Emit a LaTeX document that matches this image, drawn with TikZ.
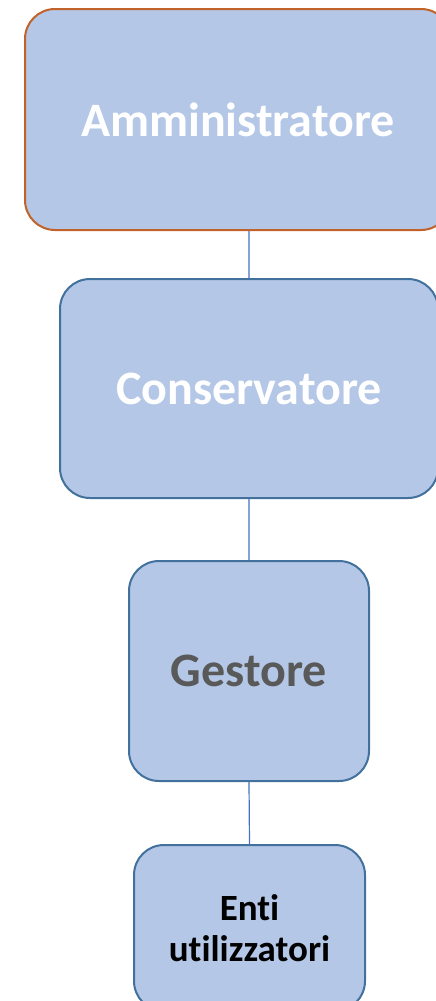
\documentclass[tikz,border=0pt]{standalone}
\usepackage{fontspec}
\setmainfont[Ligatures=NoCommon]{Carlito}
\usetikzlibrary{calc}
\definecolor{boxfill}{HTML}{B4C7E7}
\definecolor{boxline}{HTML}{41719C}
\definecolor{topline}{HTML}{C0622A}
\definecolor{linkline}{HTML}{4472C4}
\definecolor{graytext}{HTML}{595959}
\begin{document}
\begin{tikzpicture}[x=1pt,y=-1pt,
	role/.style={draw=boxline,line width=2pt,fill=boxfill,rectangle,rounded corners=30pt,
		font=\bfseries\fontsize{48}{56}\selectfont,inner sep=0pt},
	link/.style={draw=linkline,line width=1.2pt}]
				  %PAGE
				  \useasboundingbox (0,0) rectangle (436,1001);
				  %RUOLI
				  \node[role,draw=topline,text=white,minimum width=426pt,minimum height=221pt](amm) at (238,119.5) {Amministratore};
				  \node[role,text=white,minimum width=378pt,minimum height=219pt](cons) at (249,388.5) {Conservatore};
				  \node[role,text=graytext,minimum width=240pt,minimum height=220pt](gest) at (249,671) {Gestore};
				  \node[role,text=black,minimum width=231pt,minimum height=166pt,align=center,
					font=\bfseries\fontsize{37}{41}\selectfont](enti) at (249.5,928) {Enti\\utilizzatori};
				  %COLLEGAMENTI
				  \draw[link] (amm.south -| cons.north) -- (cons.north)
					(cons.south) -- (gest.north) (gest.south) -- (enti.north);
\end{tikzpicture}
\end{document}
